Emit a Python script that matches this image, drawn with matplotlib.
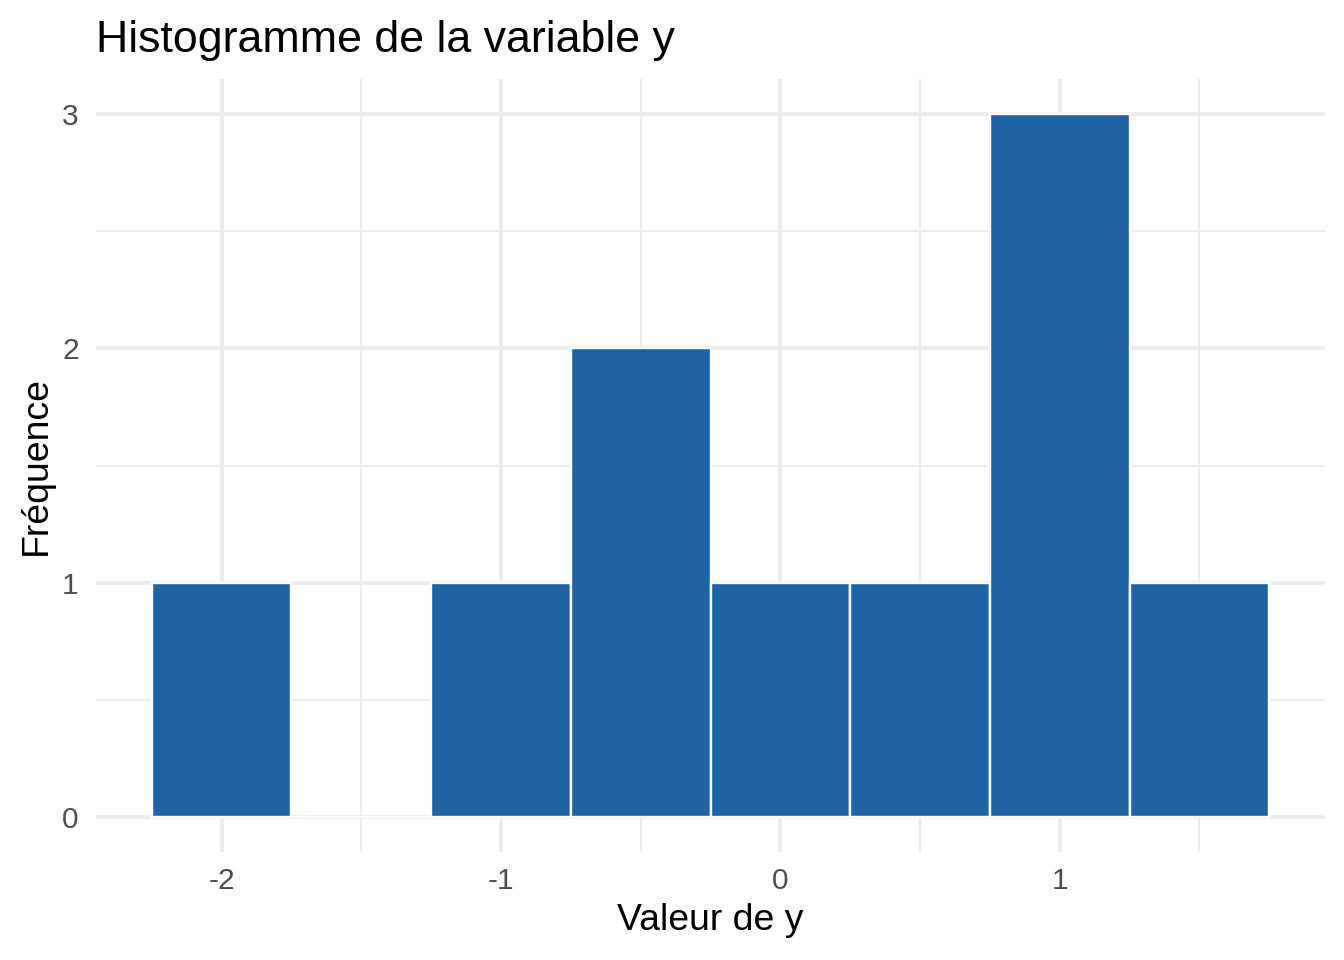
import matplotlib.pyplot as plt
from matplotlib import rcParams

rcParams['font.family'] = ['Liberation Sans', 'DejaVu Sans']
rcParams['axes.unicode_minus'] = False

# bin centres (width 0.5) and counts
bin_centres = [-2.0, -1.5, -1.0, -0.5, 0.0, 0.5, 1.0, 1.5]
counts = [1, 0, 1, 2, 1, 1, 3, 1]
bin_width = 0.5

x_ticks = [-2, -1, 0, 1]
x_minor = [-1.5, -0.5, 0.5, 1.5]
y_ticks = [0, 1, 2, 3]
y_minor = [0.5, 1.5, 2.5]

fig = plt.figure(figsize=(7, 5), dpi=192)
ax = fig.add_axes([0.0714, 0.1125, 0.9145, 0.8052])

grid_col = '#EBEBEB'
for v in x_ticks:
    ax.axvline(v, color=grid_col, linewidth=1.4, zorder=0)
for v in x_minor:
    ax.axvline(v, color=grid_col, linewidth=0.7, zorder=0)
for v in y_ticks:
    ax.axhline(v, color=grid_col, linewidth=1.4, zorder=0)
for v in y_minor:
    ax.axhline(v, color=grid_col, linewidth=0.7, zorder=0)

ax.bar(bin_centres, counts, width=bin_width, color='#1F63A5',
       edgecolor='white', linewidth=0.9, zorder=2)

ax.set_xlim(-2.45, 1.95)
ax.set_ylim(-0.15, 3.15)
ax.set_xticks(x_ticks)
ax.set_yticks(y_ticks)
ax.tick_params(length=0, labelsize=11.2, labelcolor='#4D4D4D')
ax.tick_params(axis='x', pad=5.5)
ax.tick_params(axis='y', pad=6.5)
for s in ax.spines.values():
    s.set_visible(False)

ax.set_xlabel('Valeur de y', fontsize=14, labelpad=3)
ax.set_ylabel('Fréquence', fontsize=14, labelpad=3)
ax.set_title('Histogramme de la variable y', fontsize=16.8, loc='left', pad=10)

fig.savefig('out.png', dpi=192)
